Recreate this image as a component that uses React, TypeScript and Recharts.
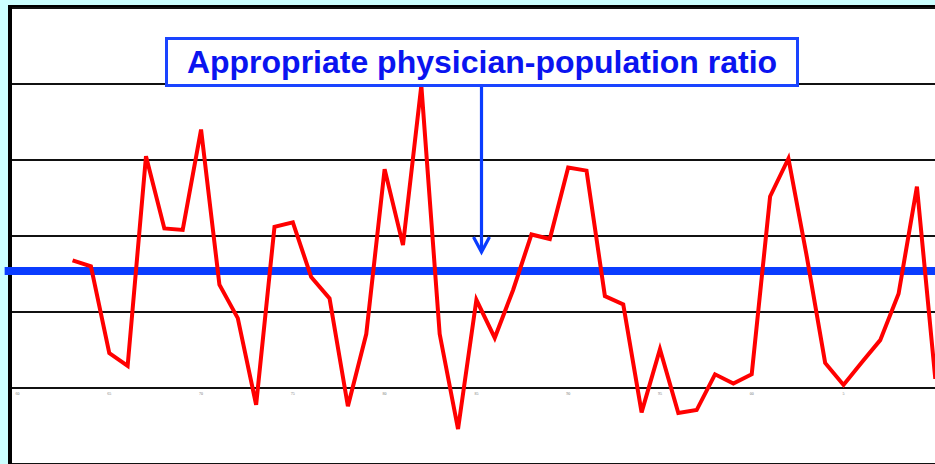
import { LineChart, Line, XAxis, YAxis, CartesianGrid, ReferenceLine, ReferenceDot } from 'recharts'

// position index along the time axis (0 = first tick)
const positions = [
  3, 4, 5, 6, 7, 8, 9, 10, 11, 12, 13, 14, 15, 16, 17, 18, 19, 20, 21, 22, 23, 24, 25, 26,
  27, 28, 29, 30, 31, 32, 33, 34, 35, 36, 37, 38, 39, 40, 41, 42, 43, 44, 45, 46, 47, 48, 49, 50
]

const ratioValues = [
  134, 130, 73, 64.5, 202.5, 155, 154, 220, 118, 96, 39, 156, 159, 123, 109, 38, 85.5, 194, 144, 249, 85.5, 23, 108, 83,
  114.5, 151, 148, 195, 193, 110.5, 105, 34, 75.5, 33.5, 35.5, 59, 53, 59, 176, 201, 136.5, 66.5, 52, 67, 81.5, 112, 182.5, 56
]

const tickPositions = [0, 5, 10, 15, 20, 25, 30, 35, 40, 45]
const tickLabels = ['60', '65', '70', '75', '80', '85', '90', '95', '00', '5']

const yTicks = [0, 50, 100, 150, 200, 250, 300]
const appropriateRatio = 127

const data = positions.map((i, k) => ({ i, v: ratioValues[k] }))

const BLUE = '#0a3cff'
const RED = '#ff0000'

export default function App() {
  return (
    <div style={{ position: 'fixed', left: 0, top: 0, width: 935, height: 464, overflow: 'hidden', background: '#ccffff' }}>
      <div
        style={{
          position: 'absolute',
          left: 8,
          top: 5,
          width: 960,
          height: 470,
          background: '#fff',
          borderLeft: '4px solid #000',
          borderTop: '3px solid #000',
        }}
      />
      <div style={{ position: 'absolute', left: 0, top: 0 }}>
        <LineChart width={972} height={466} data={data} margin={{ top: 8, right: 0, left: 12, bottom: 2 }}>
          <CartesianGrid horizontal vertical={false} stroke="#111" strokeWidth={2} />
          <XAxis type="number" dataKey="i" domain={[-0.3, 52]} hide allowDataOverflow />
          <YAxis type="number" domain={[0, 300]} ticks={yTicks} hide />
          {tickPositions.map((t, k) => (
            <ReferenceDot
              key={t}
              x={t}
              y={50}
              r={0}
              fill="none"
              stroke="none"
              label={{ value: tickLabels[k], position: 'bottom', offset: 4, fontSize: 4, fill: '#777' }}
            />
          ))}
          <ReferenceLine
            segment={[{ x: -0.7, y: appropriateRatio }, { x: 52, y: appropriateRatio }]}
            stroke={BLUE}
            strokeWidth={8}
            ifOverflow="visible"
          />
          <Line
            type="linear"
            dataKey="v"
            stroke={RED}
            strokeWidth={4}
            dot={false}
            isAnimationActive={false}
            strokeLinejoin="miter"
          />
        </LineChart>
      </div>
      <svg width={935} height={464} style={{ position: 'absolute', left: 0, top: 0, pointerEvents: 'none' }}>
        <line x1={481.5} y1={87} x2={481.5} y2={251} stroke={BLUE} strokeWidth={3.2} />
        <polyline points="473.5,237 481.5,252 489.5,237" fill="none" stroke={BLUE} strokeWidth={3.2} />
      </svg>
      <div
        style={{
          position: 'absolute',
          left: 165,
          top: 37,
          width: 628,
          height: 44,
          border: '3px solid #1a44ff',
          background: '#fff',
          color: '#0a14f0',
          fontFamily: '"Liberation Sans", Arial, sans-serif',
          fontWeight: 'bold',
          fontSize: 32,
          lineHeight: '44px',
          textAlign: 'center',
          whiteSpace: 'nowrap',
        }}
      >
        Appropriate physician-population ratio
      </div>
    </div>
  )
}
